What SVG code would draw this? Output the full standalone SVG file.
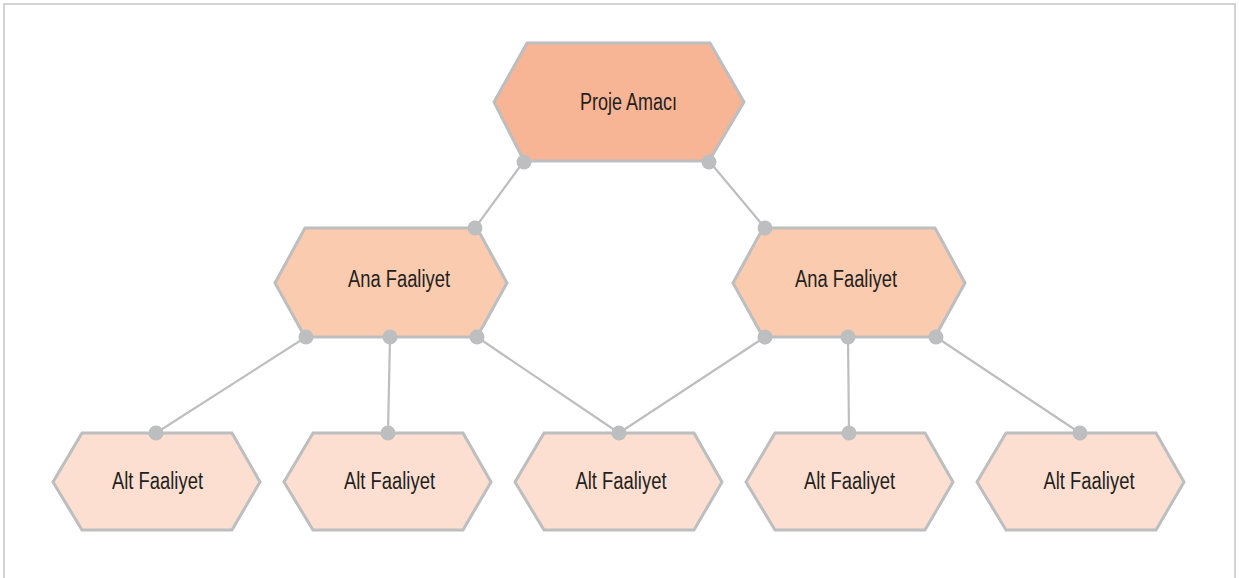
<svg xmlns="http://www.w3.org/2000/svg" width="1239" height="578" viewBox="0 0 1239 578">
<style>
.hex{stroke:#BDBEC0;stroke-width:3;stroke-linejoin:miter}
.top{fill:#F7B596}
.ana{fill:#FACBAF}
.alt{fill:#FCDFD0}
.lbl{font-family:"Liberation Sans",Arial,sans-serif;font-size:23.5px;fill:#231F20;text-anchor:middle}
.conn line{stroke:#BDBEC0;stroke-width:2.2}
.dot{fill:#BDBEC0}
</style>
<rect x="4" y="4" width="1231" height="620" fill="#fff" stroke="#D3D3D3" stroke-width="2"/>
<g id="connectors" class="conn">
<line x1="524" y1="161" x2="475" y2="228"/>
<line x1="709" y1="161" x2="765" y2="228"/>
<line x1="306" y1="337" x2="156" y2="433"/>
<line x1="390" y1="337" x2="388" y2="433"/>
<line x1="477" y1="337" x2="619" y2="433"/>
<line x1="765" y1="337" x2="619" y2="433"/>
<line x1="848" y1="337" x2="849" y2="433"/>
<line x1="936" y1="337" x2="1080" y2="433"/>
</g>
<g id="proje-amaci">
<polygon class="hex top" points="527,43 710,43 744,102 709,161 524,161 494,102"/>
<text class="lbl" x="628.5" y="110" textLength="97" lengthAdjust="spacingAndGlyphs">Proje Amacı</text>
</g>
<g id="ana-faaliyet-1">
<polygon class="hex ana" points="305,228 477,228 507,283 477,337 305,337 275,283"/>
<text class="lbl" x="399" y="287" textLength="102" lengthAdjust="spacingAndGlyphs">Ana Faaliyet</text>
</g>
<g id="ana-faaliyet-2">
<polygon class="hex ana" points="763,228 935,228 965,283 935,337 763,337 733,283"/>
<text class="lbl" x="846" y="287" textLength="102" lengthAdjust="spacingAndGlyphs">Ana Faaliyet</text>
</g>
<g id="alt-faaliyet-1">
<polygon class="hex alt" points="82,433 232,433 260,482 232,530 82,530 53,482"/>
<text class="lbl" x="157.5" y="489" textLength="91" lengthAdjust="spacingAndGlyphs">Alt Faaliyet</text>
</g>
<g id="alt-faaliyet-2">
<polygon class="hex alt" points="313,433 463,433 491,482 463,530 313,530 284,482"/>
<text class="lbl" x="389.5" y="489" textLength="91" lengthAdjust="spacingAndGlyphs">Alt Faaliyet</text>
</g>
<g id="alt-faaliyet-3">
<polygon class="hex alt" points="544,433 694,433 722,482 694,530 544,530 515,482"/>
<text class="lbl" x="621" y="489" textLength="91" lengthAdjust="spacingAndGlyphs">Alt Faaliyet</text>
</g>
<g id="alt-faaliyet-4">
<polygon class="hex alt" points="775,433 925,433 953,482 925,530 775,530 746,482"/>
<text class="lbl" x="849.5" y="489" textLength="91" lengthAdjust="spacingAndGlyphs">Alt Faaliyet</text>
</g>
<g id="alt-faaliyet-5">
<polygon class="hex alt" points="1006,433 1156,433 1184,482 1156,530 1006,530 977,482"/>
<text class="lbl" x="1089" y="489" textLength="91" lengthAdjust="spacingAndGlyphs">Alt Faaliyet</text>
</g>
<g id="dots" class="dot">
<circle cx="524" cy="162" r="7.5"/>
<circle cx="709" cy="162" r="7.5"/>
<circle cx="475" cy="228" r="7.5"/>
<circle cx="765" cy="228" r="7.5"/>
<circle cx="306" cy="337" r="7.5"/>
<circle cx="390" cy="337" r="7.5"/>
<circle cx="477" cy="337" r="7.5"/>
<circle cx="765" cy="337" r="7.5"/>
<circle cx="848" cy="337" r="7.5"/>
<circle cx="936" cy="337" r="7.5"/>
<circle cx="156" cy="433" r="7.5"/>
<circle cx="388" cy="433" r="7.5"/>
<circle cx="619" cy="433" r="7.5"/>
<circle cx="849" cy="433" r="7.5"/>
<circle cx="1080" cy="433" r="7.5"/>
</g>
</svg>
